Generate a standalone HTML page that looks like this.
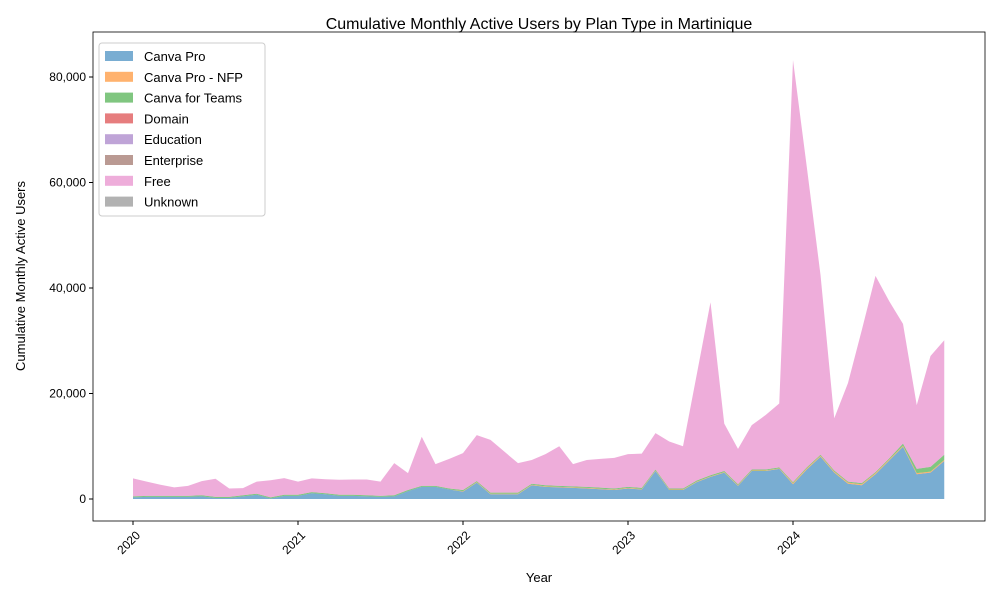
<!DOCTYPE html>
<html><head><meta charset="utf-8"><style>
body{margin:0;background:#fff;font-family:"Liberation Sans",sans-serif;}
svg text{font-family:"Liberation Sans",sans-serif;fill:#000;}
</style></head><body>
<svg id="chart" width="1000" height="600" xmlns="http://www.w3.org/2000/svg">
<rect width="1000" height="600" fill="#fff"/>
<text x="539" y="29" font-size="16" text-anchor="middle">Cumulative Monthly Active Users by Plan Type in Martinique</text>
<g id="areas"></g>
<rect x="93" y="32" width="892" height="489" fill="none" stroke="#000" stroke-width="0.8"/>
<g id="axes"></g>
<text x="539" y="582" font-size="13" text-anchor="middle">Year</text>
<text transform="translate(25,276) rotate(-90)" font-size="13" text-anchor="middle">Cumulative Monthly Active Users</text>
<g id="legend"></g>
</svg>
<script>
const months = Array.from({length:60},(_,i)=>(2020+Math.floor(i/12))+'-'+String(i%12+1).padStart(2,'0'));
const seriesNames = ["Canva Pro","Canva Pro - NFP","Canva for Teams","Domain","Education","Enterprise","Free","Unknown"];
const seriesColors = ["#1f77b4","#ff7f0e","#2ca02c","#d62728","#9467bd","#8c564b","#e377c2","#7f7f7f"];
const canvaPro = [300,400,400,400,400,500,200,200,500,800,100,600,600,1100,900,600,600,500,400,500,1500,2300,2300,1800,1400,3100,900,900,900,2600,2300,2200,2100,2000,1850,1700,2000,1800,5300,1700,1700,3200,4200,5000,2500,5300,5300,5700,2800,5600,8000,5000,2900,2600,4700,7300,9900,4700,5000,7200];
const canvaProNfp = [0,0,0,0,0,0,0,0,0,0,0,0,0,0,0,0,0,0,0,0,0,0,0,0,100,100,100,100,100,100,100,100,100,100,100,100,100,100,100,100,100,100,100,100,100,100,100,100,200,200,200,200,200,200,200,200,200,200,200,200];
const canvaTeams = [200,200,200,200,200,200,200,200,200,200,200,200,200,200,200,200,200,200,200,200,200,200,200,200,200,200,200,200,200,200,200,200,200,200,200,200,200,200,200,200,200,200,200,200,200,200,200,200,200,200,200,200,200,200,200,200,400,800,900,1000];
const domain = new Array(60).fill(0);
const education = new Array(60).fill(0);
const enterprise = new Array(60).fill(0);
const free = [3400,2700,2100,1600,1900,2700,3450,1600,1350,2300,3250,3150,2500,2600,2650,2850,2900,3000,2700,6100,3200,9300,4100,5600,7000,8700,10000,7800,5600,4500,5900,7500,4200,5100,5450,5800,6200,6500,6900,8900,8000,20100,32800,9000,6700,8400,10300,12100,80000,57000,34100,9900,18700,29000,37200,29800,22700,12100,21000,21700];
const unknown = new Array(60).fill(0);
const yTicks = [0,20000,40000,60000,80000];
const xTickYears = [2020,2021,2022,2023,2024];

const NS="http://www.w3.org/2000/svg";
const X = i => 133 + i*13.75;
const Y = v => 499 - v*0.005275;
const all=[canvaPro,canvaProNfp,canvaTeams,domain,education,enterprise,free,unknown];
const areas=document.getElementById('areas');
let base=new Array(60).fill(0);
all.forEach((s,k)=>{
  const top=base.map((b,i)=>b+s[i]);
  let d='M'+top.map((v,i)=>X(i)+','+Y(v)).join(' L');
  for(let i=59;i>=0;i--) d+=' L'+X(i)+','+Y(base[i]);
  d+=' Z';
  const p=document.createElementNS(NS,'path');
  p.setAttribute('d',d);p.setAttribute('fill',seriesColors[k]);p.setAttribute('fill-opacity','0.6');
  
  
  areas.appendChild(p);
  base=top;
});
const axes=document.getElementById('axes');
yTicks.forEach(v=>{
  const l=document.createElementNS(NS,'line');
  l.setAttribute('x1',89);l.setAttribute('x2',93);l.setAttribute('y1',Y(v));l.setAttribute('y2',Y(v));l.setAttribute('stroke','#000');
  
  
  axes.appendChild(l);
  const t=document.createElementNS(NS,'text');
  t.setAttribute('x',86);t.setAttribute('y',Y(v)+4);t.setAttribute('font-size','12');t.setAttribute('text-anchor','end');
  t.textContent=v.toLocaleString('en-US');
  
  
  axes.appendChild(t);
});
xTickYears.forEach(yr=>{
  const x=X((yr-2020)*12);
  const l=document.createElementNS(NS,'line');
  l.setAttribute('x1',x);l.setAttribute('x2',x);l.setAttribute('y1',521);l.setAttribute('y2',525);l.setAttribute('stroke','#000');
  
  
  axes.appendChild(l);
  const t=document.createElementNS(NS,'text');
  t.setAttribute('transform','translate('+(x+8)+',536) rotate(-45)');t.setAttribute('font-size','12');t.setAttribute('text-anchor','end');
  t.textContent=yr;
  
  
  axes.appendChild(t);
});
const lg=document.getElementById('legend');
const box=document.createElementNS(NS,'rect');
box.setAttribute('x',99);box.setAttribute('y',43);box.setAttribute('width',166);box.setAttribute('height',173);box.setAttribute('rx',3);
box.setAttribute('fill','#fff');box.setAttribute('fill-opacity','0.8');box.setAttribute('stroke','#ccc');


lg.appendChild(box);
seriesNames.forEach((n,k)=>{
  const y=56+k*20.8;
  const r=document.createElementNS(NS,'rect');
  r.setAttribute('x',105);r.setAttribute('y',y-5);r.setAttribute('width',28);r.setAttribute('height',10);
  r.setAttribute('fill',seriesColors[k]);r.setAttribute('fill-opacity','0.6');
  
  
  lg.appendChild(r);
  const t=document.createElementNS(NS,'text');
  t.setAttribute('x',144);t.setAttribute('y',y+5);t.setAttribute('font-size','13');
  t.textContent=n;
  
  
  lg.appendChild(t);
});
</script>
</body></html>
